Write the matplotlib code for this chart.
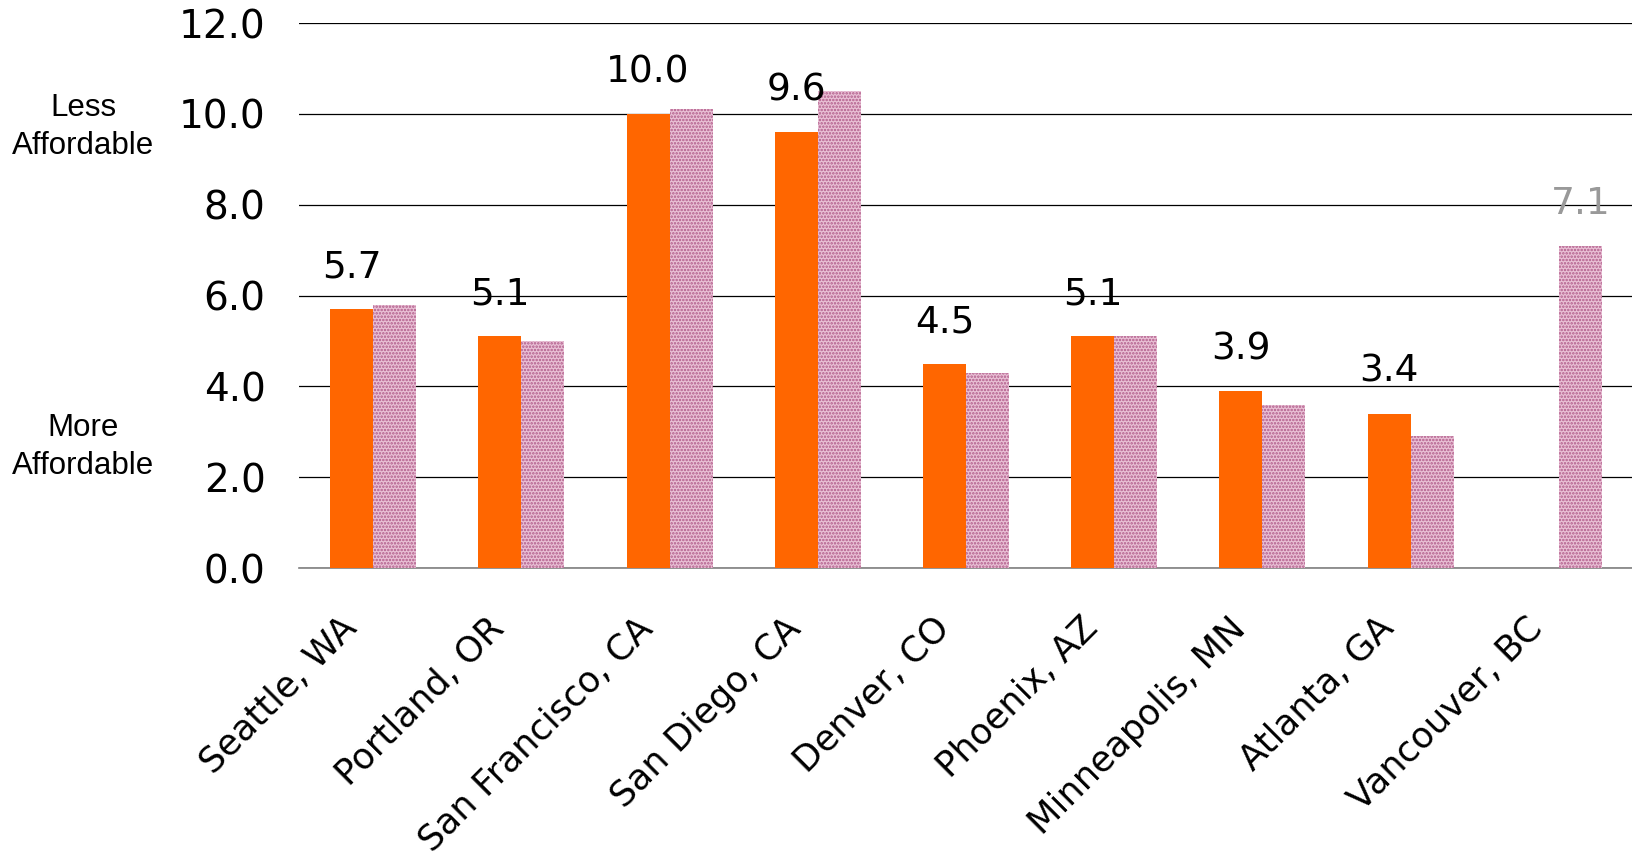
import numpy as np
import matplotlib.pyplot as plt
from matplotlib.transforms import ScaledTranslation

cities = ['Seattle, WA', 'Portland, OR', 'San Francisco, CA', 'San Diego, CA',
          'Denver, CO', 'Phoenix, AZ', 'Minneapolis, MN', 'Atlanta, GA', 'Vancouver, BC']
# first series (labelled), nan where there is no value
ratio_a = [5.7, 5.1, 10.0, 9.6, 4.5, 5.1, 3.9, 3.4, np.nan]
# second series
ratio_b = [5.8, 5.0, 10.1, 10.5, 4.3, 5.1, 3.6, 2.9, 7.1]
yticks = [0, 2, 4, 6, 8, 10, 12]

ORANGE = '#ff6600'

fig = plt.figure(figsize=(16.33, 8.55), dpi=100)
ax = fig.add_axes([299 / 1633, 1 - 568 / 855, 1 - 299 / 1633, 545 / 855])

x = np.arange(len(cities))
w = 0.29
ax.bar(x - w / 2, ratio_a, w, color=ORANGE, zorder=3)
plt.rcParams['hatch.linewidth'] = 1.2
ax.bar(x + w / 2, ratio_b, w, color='#e9c0d5', hatch='.....',
       edgecolor='#b05a89', linewidth=0, zorder=3)

lab_font = dict(fontsize=27, family='DejaVu Sans', ha='center', va='bottom', zorder=5)
for xi, v in zip(x, ratio_a):
    if not np.isnan(v):
        ax.annotate(f'{v:.1f}', (xi - w / 2, v), xytext=(0, 17),
                    textcoords='offset points', color='black', **lab_font)
# series b only gets a label where series a is missing
for xi, a, b in zip(x, ratio_a, ratio_b):
    if np.isnan(a):
        ax.annotate(f'{b:.1f}', (xi + w / 2, b), xytext=(0, 17),
                    textcoords='offset points', color='#999999', **lab_font)

ax.set_xlim(-0.5, 8.5)
ax.set_ylim(0, 12)
ax.set_yticks(yticks)
ax.set_yticklabels([f'{t:.1f}' for t in yticks], fontsize=28, family='DejaVu Sans')
ax.yaxis.grid(True, color='black', linewidth=0.9, zorder=0)
ax.tick_params(axis='y', length=0, pad=24)
ax.tick_params(axis='x', length=0, pad=31)
ax.set_xticks(x)
ax.set_xticklabels(cities, rotation=45, ha='right', rotation_mode='anchor',
                   fontsize=25.5, family='DejaVu Sans')
shift = ScaledTranslation(-34 / 100, 0, fig.dpi_scale_trans)
for lbl in ax.get_xticklabels():
    lbl.set_transform(lbl.get_transform() + shift)
for side in ['top', 'right', 'left']:
    ax.spines[side].set_visible(False)
ax.spines['bottom'].set_color('#808080')
ax.spines['bottom'].set_linewidth(1.2)

side_font = dict(fontsize=22.5, family='Liberation Sans', ha='center', va='center',
                 linespacing=1.32)
fig.text(83 / 1633, 1 - 127 / 855, 'Less\nAffordable', **side_font)
fig.text(83 / 1633, 1 - 447 / 855, 'More\nAffordable', **side_font)

fig.savefig('out.png', dpi=100)
